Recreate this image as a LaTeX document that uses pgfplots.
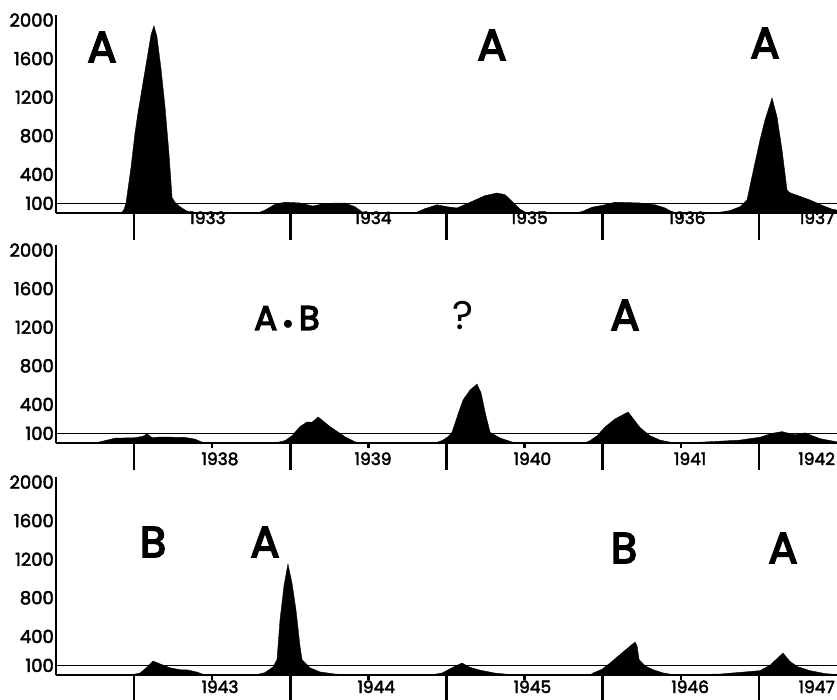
\documentclass[border=0pt]{standalone}
\usepackage{fontspec}
\setmainfont{Poppins}
\newfontfamily\heavy{Poppins}[FakeBold=2.5]
\newfontfamily\lettering{Poppins}[FakeBold=4]
\usepackage{pgfplots}
\pgfplotsset{compat=1.18}

\pgfplotsset{
  panel/.style={
    scale only axis, width=781pt, height=198pt,
    anchor=south west,
    ymin=0, ymax=2052,
    axis x line=bottom, axis y line=left,
    axis line style={-, line width=2pt, black},
    ytick={100,400,800,1200,1600,2000},
    yticklabels={100,400,800,1200,1600,2000},
    scaled y ticks=false,
    ytick style={draw=none},
    yticklabel style={font=\heavy\fontsize{18}{18}\selectfont, anchor=east, inner sep=1pt, xshift=26pt},
    tick align=outside,
    major tick length=27pt,
    minor tick length=5pt,
    xtick style={line width=2.5pt, black},
    minor tick style={line width=0.8pt, black},
    xticklabels={},
    extra x tick style={major tick length=0pt, xticklabel style={font=\heavy\fontsize{17}{17}\selectfont, anchor=base, inner sep=0pt}},
  },
  cases/.style={fill=black, draw=black, line width=0.4pt},
  ref/.style={black, line width=0.9pt},
}
\newcommand{\strain}{\lettering\fontsize{43}{43}\selectfont}

\begin{document}
\begin{tikzpicture}
\path[use as bounding box] (0,0) rectangle (837pt,-699pt);

% ---------- 1933-1937
\begin{axis}[panel, at={(56pt,-213pt)},
  xmin=1932.5, xmax=1937.5,
  xtick={1933,...,1937}, minor xtick={1933.5,1934.5,1935.5,1936.5},
  extra x ticks={1933.47,1934.53,1935.53,1936.54,1937.37},
  extra x tick labels={1933,1934,1935,1936,1937},
  extra x tick style={xticklabel style={yshift=-11pt}}]
\addplot[ref] coordinates {(1932.5,100) (1937.5,100)};
\addplot[cases] coordinates {
(1932.500,0) (1932.897,0) (1932.923,10) (1932.936,40) (1932.948,100)
(1932.980,470) (1933.006,830) (1933.025,1040) (1933.051,1290) (1933.083,1600)
(1933.109,1850) (1933.127,1940) (1933.146,1830) (1933.172,1500) (1933.198,1100)
(1933.224,600) (1933.243,160) (1933.262,110) (1933.294,65) (1933.332,25)
(1933.371,5) (1933.422,0) (1933.793,0) (1933.838,30) (1933.902,90)
(1933.966,112) (1934.062,104) (1934.145,72) (1934.222,100) (1934.350,104)
(1934.414,65) (1934.459,12) (1934.510,0) (1934.798,0) (1934.862,45)
(1934.939,85) (1935.003,65) (1935.067,52) (1935.150,110) (1935.246,180)
(1935.323,207) (1935.375,190) (1935.426,110) (1935.471,40) (1935.515,0)
(1935.823,0) (1935.868,15) (1935.932,60) (1936.002,80) (1936.079,112)
(1936.239,104) (1936.335,85) (1936.399,52) (1936.444,12) (1936.495,0)
(1936.719,0) (1936.815,25) (1936.879,65) (1936.924,135) (1936.969,477)
(1937.007,756) (1937.039,964) (1937.084,1192) (1937.116,995) (1937.148,653)
(1937.180,238) (1937.199,210) (1937.327,135) (1937.404,80) (1937.468,40)
(1937.500,30)} \closedcycle;
\end{axis}

% ---------- 1938-1942
\begin{axis}[panel, at={(56pt,-443pt)},
  xmin=1937.5, xmax=1942.5,
  xtick={1938,...,1942}, minor xtick={1938.5,1939.5,1940.5,1941.5},
  extra x ticks={1938.55,1939.53,1940.55,1941.56,1942.37},
  extra x tick labels={1938,1939,1940,1941,1942},
  extra x tick style={xticklabel style={yshift=-22pt}}]
\addplot[ref] coordinates {(1937.5,100) (1942.5,100)};
\addplot[cases] coordinates {
(1937.500,0) (1937.750,0) (1937.814,25) (1937.878,50) (1938.006,55)
(1938.057,70) (1938.083,95) (1938.115,55) (1938.166,62) (1938.326,58)
(1938.390,40) (1938.441,5) (1938.486,0) (1938.902,0) (1938.966,25)
(1939.011,75) (1939.062,170) (1939.107,218) (1939.139,215) (1939.178,270)
(1939.254,170) (1939.350,65) (1939.414,12) (1939.459,0) (1939.926,0)
(1939.971,25) (1940.010,65) (1940.035,110) (1940.074,300) (1940.106,446)
(1940.151,549) (1940.195,611) (1940.221,520) (1940.247,320) (1940.279,110)
(1940.343,52) (1940.420,10) (1940.471,0) (1940.887,0) (1940.919,25)
(1940.964,75) (1941.015,166) (1941.079,250) (1941.163,321) (1941.239,160)
(1941.303,75) (1941.367,30) (1941.444,5) (1941.495,0) (1941.623,8)
(1941.879,30) (1942.007,60) (1942.084,100) (1942.148,118) (1942.231,85)
(1942.295,105) (1942.391,45) (1942.500,12)} \closedcycle;
\end{axis}

% ---------- 1943-1947
\begin{axis}[panel, at={(56pt,-675pt)},
  xmin=1942.5, xmax=1947.5,
  xtick={1943,...,1947}, minor xtick={1943.5,1944.5,1945.5,1946.5},
  extra x ticks={1943.55,1944.55,1945.55,1946.56,1947.37},
  extra x tick labels={1943,1944,1945,1946,1947},
  extra x tick style={xticklabel style={yshift=-18pt}}]
\addplot[ref] coordinates {(1942.5,100) (1947.5,100)};
\addplot[cases] coordinates {
(1942.500,0) (1942.974,0) (1943.038,20) (1943.089,90) (1943.121,145)
(1943.166,115) (1943.230,75) (1943.294,55) (1943.345,52) (1943.403,30)
(1943.454,0) (1943.774,0) (1943.838,25) (1943.890,85) (1943.915,160)
(1943.934,570) (1943.960,930) (1943.985,1150) (1944.011,950) (1944.036,680)
(1944.062,300) (1944.075,160) (1944.126,75) (1944.190,32) (1944.286,10)
(1944.382,0) (1944.894,0) (1944.971,20) (1945.035,75) (1945.099,124)
(1945.150,80) (1945.214,50) (1945.310,20) (1945.439,0) (1945.919,0)
(1945.938,20) (1945.996,60) (1946.047,124) (1946.124,230) (1946.207,342)
(1946.220,300) (1946.233,160) (1946.271,95) (1946.322,55) (1946.386,22)
(1946.463,0) (1946.751,10) (1947.007,45) (1947.071,100) (1947.122,180)
(1947.154,228) (1947.199,140) (1947.250,85) (1947.327,45) (1947.423,15)
(1947.500,5)} \closedcycle;
\end{axis}

% ---------- strain labels
\node at (102pt,-47pt) {\strain A};
\node at (492pt,-45pt) {\strain A};
\node at (765pt,-43pt) {\strain A};
\node at (287pt,-318pt) {\lettering\fontsize{34}{34}\selectfont A\,{\fontsize{22}{22}\selectfont$\bullet$}\,B};
\node at (463pt,-315pt) {\fontsize{40}{40}\selectfont ?};
\node at (625pt,-315pt) {\strain A};
\node at (153pt,-542pt) {\strain B};
\node at (265pt,-542pt) {\strain A};
\node at (624pt,-548pt) {\strain B};
\node at (783pt,-548pt) {\strain A};
\end{tikzpicture}
\end{document}
